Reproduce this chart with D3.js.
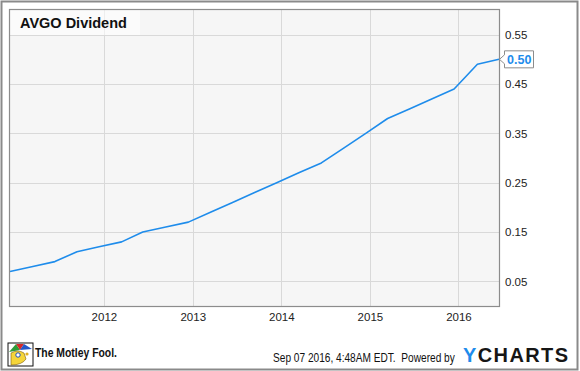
<!DOCTYPE html>
<html>
<head>
<meta charset="utf-8">
<script src="https://cdn.jsdelivr.net/npm/d3@7"></script>
<style>
  body { margin: 0; background: #fff; }
  svg { display: block; font-family: "Liberation Sans", Arial, sans-serif; }
</style>
</head>
<body>
<svg width="580" height="371"></svg>
<script>
// quarterly dividend (ex-date, amount)
var divDates = ["2010-12-10", "2011-03-14", "2011-06-13", "2011-09-12", "2011-12-12",
  "2012-03-14", "2012-06-09", "2012-09-12", "2012-12-14", "2013-03-15", "2013-06-14",
  "2013-09-13", "2013-12-13", "2014-03-14", "2014-06-15", "2014-09-15", "2014-12-15",
  "2015-03-15", "2015-06-15", "2015-09-15", "2015-12-14", "2016-03-19", "2016-06-16"];
var divValues = [0.07, 0.08, 0.09, 0.11, 0.12,
  0.13, 0.15, 0.16, 0.17, 0.19, 0.21,
  0.23, 0.25, 0.27, 0.29, 0.32, 0.35,
  0.38, 0.40, 0.42, 0.44, 0.49, 0.50];

var yTicks = [0.05, 0.15, 0.25, 0.35, 0.45, 0.55];
var xTickYears = [2012, 2013, 2014, 2015, 2016];

var chartTitle = "AVGO Dividend";
var stampText = "Sep 07 2016, 4:48AM EDT.  Powered by";

var svg = d3.select("svg"),
    width = +svg.attr("width"),
    height = +svg.attr("height");

var parse = d3.timeParse("%Y-%m-%d");
var data = divDates.map(function(d, i) { return { date: parse(d), value: divValues[i] }; });

var plot = { left: 10, right: 499, top: 10, bottom: 306 };
var blue = "#1e8ceb";

var x = d3.scaleTime()
    .domain(d3.extent(data, function(d) { return d.date; }))
    .range([plot.left, plot.right]);

var y = d3.scaleLinear()
    .domain([0, 0.6])
    .range([plot.bottom, plot.top]);

// outer frame
svg.append("rect")
    .attr("x", 1.5).attr("y", 1.5)
    .attr("width", width - 4).attr("height", height - 3)
    .attr("fill", "#fff")
    .attr("stroke", "#8a8a8a")
    .attr("stroke-width", 2);

// plot background
svg.append("rect")
    .attr("x", plot.left).attr("y", plot.top)
    .attr("width", plot.right - plot.left).attr("height", plot.bottom - plot.top)
    .attr("fill", "#f6f6f6");

// grid
var grid = svg.append("g").attr("class", "grid");
grid.selectAll("line.h")
    .data(yTicks)
    .enter().append("line")
      .attr("class", "h")
      .attr("x1", plot.left).attr("x2", plot.right)
      .attr("y1", function(d) { return Math.round(y(d)) + 0.5; })
      .attr("y2", function(d) { return Math.round(y(d)) + 0.5; })
      .attr("stroke", "#d9d9d9");

var yearDates = xTickYears.map(function(yr) { return new Date(yr, 0, 1); });
grid.selectAll("line.v")
    .data(yearDates)
    .enter().append("line")
      .attr("class", "v")
      .attr("y1", plot.top).attr("y2", plot.bottom)
      .attr("x1", function(d) { return Math.round(x(d)) + 0.5; })
      .attr("x2", function(d) { return Math.round(x(d)) + 0.5; })
      .attr("stroke", "#d9d9d9");

// title box
svg.append("rect")
    .attr("x", plot.left).attr("y", plot.top)
    .attr("width", 130).attr("height", 25)
    .attr("fill", "#fff").attr("fill-opacity", 0.55);

svg.append("text")
    .attr("x", 20).attr("y", 28)
    .attr("font-size", "14.5px")
    .attr("font-weight", "bold")
    .attr("fill", "#111")
    .text(chartTitle);

// dividend line
var line = d3.line()
    .x(function(d) { return x(d.date); })
    .y(function(d) { return y(d.value); });

svg.append("path")
    .datum(data)
    .attr("fill", "none")
    .attr("stroke", blue)
    .attr("stroke-width", 1.6)
    .attr("stroke-linejoin", "round")
    .attr("d", line);

// plot border
svg.append("rect")
    .attr("x", plot.left - 0.5).attr("y", plot.top - 0.5)
    .attr("width", plot.right - plot.left + 1).attr("height", plot.bottom - plot.top + 1)
    .attr("fill", "none")
    .attr("stroke", "#8c8c8c")
    .attr("stroke-width", 1.2);

// axes labels
var yAxis = d3.axisRight(y).tickValues(yTicks).tickFormat(d3.format(".2f")).tickSize(0).tickPadding(6);
var gy = svg.append("g")
    .attr("transform", "translate(" + plot.right + ",0)")
    .call(yAxis);
gy.select(".domain").remove();
gy.selectAll("text")
    .attr("font-size", "11.5px")
    .attr("font-family", "Liberation Sans, Arial, sans-serif")
    .attr("fill", "#222");

var xAxis = d3.axisBottom(x).tickValues(yearDates).tickFormat(d3.timeFormat("%Y")).tickSize(0).tickPadding(7);
var gx = svg.append("g")
    .attr("transform", "translate(0," + plot.bottom + ")")
    .call(xAxis);
gx.select(".domain").remove();
gx.selectAll("text")
    .attr("font-size", "11.5px")
    .attr("font-family", "Liberation Sans, Arial, sans-serif")
    .attr("fill", "#222");

// last value callout
var last = data[data.length - 1];
var lx = x(last.date), ly = y(last.value);
var callout = svg.append("g").attr("transform", "translate(" + lx + "," + ly + ")");
callout.append("path")
    .attr("d", "M0.5,0 L5.5,-4.5 L5.5,-8.5 L34.5,-8.5 L34.5,8.5 L5.5,8.5 L5.5,4.5 Z")
    .attr("fill", "#fff")
    .attr("stroke", "#8c8c8c");
callout.append("text")
    .attr("x", 8).attr("y", 4.5)
    .attr("font-size", "12.5px")
    .attr("font-weight", "bold")
    .attr("fill", blue)
    .text(d3.format(".2f")(last.value));

// squeeze a text horizontally so it spans w pixels from (tx, ty)
function fitText(sel, tx, ty, w) {
  var natural = sel.node().getComputedTextLength();
  sel.attr("transform", "translate(" + tx + "," + ty + ") scale(" + (w / natural) + ",1)");
}

// footer: motley fool
var fool = svg.append("g").attr("transform", "translate(8,343)");
fool.append("rect").attr("width", 25).attr("height", 23).attr("fill", "#fff").attr("stroke", "#111");
fool.append("path").attr("d", "M1,9 L8,1 L12,7 Z").attr("fill", "#2e9b3a");
fool.append("path").attr("d", "M8,1 L12,7 L16,1 Z").attr("fill", "#d62828");
fool.append("path").attr("d", "M12,7 L16,1 L24,6 Z").attr("fill", "#2458c8");
fool.append("path").attr("d", "M3,10 Q10,6 16,10 L18,16 Q14,22 3,22 Z").attr("fill", "#f5d53a").attr("stroke", "#7a5a10").attr("stroke-width", 0.6);
fool.append("circle").attr("cx", 10).attr("cy", 12).attr("r", 2.2).attr("fill", "#fff").attr("stroke", "#1d4fb0");
fool.append("circle").attr("cx", 19).attr("cy", 11).attr("r", 1.6).attr("fill", "#e0b020");
var foolText = svg.append("text")
    .attr("font-size", "12px")
    .attr("font-weight", "bold")
    .attr("fill", "#111")
    .text("The Motley Fool.");
fitText(foolText, 35, 357, 82);

// footer: timestamp + ycharts
var stamp = svg.append("text")
    .attr("font-size", "12px")
    .attr("fill", "#111")
    .attr("xml:space", "preserve")
    .text(stampText);
fitText(stamp, 273, 362, 182);

var yc = svg.append("text")
    .attr("x", 463).attr("y", 362)
    .attr("font-size", "20px")
    .attr("font-weight", "bold")
    .attr("textLength", 105)
    .attr("lengthAdjust", "spacing");
yc.append("tspan").attr("fill", "#1e8ceb").text("Y");
yc.append("tspan").attr("fill", "#161616").text("CHARTS");
</script>
</body>
</html>
